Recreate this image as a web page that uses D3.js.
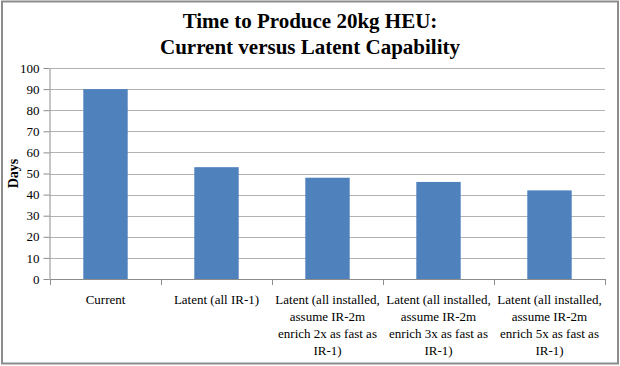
<!DOCTYPE html>
<html>
<head>
<meta charset="utf-8">
<script src="https://cdn.jsdelivr.net/npm/d3@7"></script>
<style>
  body { margin: 0; background: #fff; }
  svg { display: block; }
  text { font-family: "Liberation Serif", "DejaVu Serif", serif; }
</style>
</head>
<body>
<div id="chart_area"></div>
<script>
var width = 620
var height = 366

// Data
var categories = [
  ["Current"],
  ["Latent (all IR-1)"],
  ["Latent (all installed,", "assume IR-2m", "enrich 2x as fast as", "IR-1)"],
  ["Latent (all installed,", "assume IR-2m", "enrich 3x as fast as", "IR-1)"],
  ["Latent (all installed,", "assume IR-2m", "enrich 5x as fast as", "IR-1)"]
]
var days = [90, 53, 48, 46, 42]
var yTicks = [0, 10, 20, 30, 40, 50, 60, 70, 80, 90, 100]
var titleLines = ["Time to Produce 20kg HEU:", "Current versus Latent Capability"]
var yLabel = "Days"

var plot = {left: 50, right: 605, top: 68, bottom: 279}
var serif = "Liberation Serif, DejaVu Serif, serif"

var svg = d3.select("#chart_area")
  .append("svg")
  .attr("width", width)
  .attr("height", height)
  .attr("font-family", serif)

// outer frame
svg.append("rect")
  .attr("x", 2)
  .attr("y", 1.5)
  .attr("width", 616)
  .attr("height", 362)
  .attr("fill", "#fff")
  .attr("stroke", "#8c8c8c")
  .attr("stroke-width", 2)

var x = d3.scaleBand()
  .domain(d3.range(categories.length))
  .range([plot.left, plot.right])
  .paddingInner(0.6)
  .paddingOuter(0.3)

var y = d3.scaleLinear()
  .domain([0, 100])
  .range([plot.bottom, plot.top])

// gridlines
svg.append("g")
  .selectAll("line")
  .data(yTicks.slice(1))
  .join("line")
  .attr("x1", plot.left)
  .attr("x2", plot.right)
  .attr("y1", d => Math.round(y(d)) + 0.5)
  .attr("y2", d => Math.round(y(d)) + 0.5)
  .attr("stroke", "#b3b3b3")
  .attr("stroke-width", 1)

// bars
svg.append("g")
  .selectAll("rect")
  .data(days)
  .join("rect")
  .attr("x", (d, i) => x(i))
  .attr("y", d => y(d))
  .attr("width", x.bandwidth())
  .attr("height", d => y(0) - y(d))
  .attr("fill", "#4f81bd")

// y axis
var yAxis = svg.append("g")
  .attr("transform", "translate(" + (plot.left - 0.5) + ",0)")
  .call(d3.axisLeft(y).tickValues(yTicks).tickSize(6).tickPadding(4).tickSizeOuter(0))
  .attr("font-family", serif)
  .attr("font-size", 13)
yAxis.selectAll("path, line").attr("stroke", "#8c8c8c")
yAxis.selectAll("text").attr("fill", "#000")

// x axis
var bounds = d3.range(categories.length + 1).map(i => plot.left + i * x.step())
svg.append("line")
  .attr("x1", plot.left)
  .attr("x2", plot.right)
  .attr("y1", plot.bottom + 0.5)
  .attr("y2", plot.bottom + 0.5)
  .attr("stroke", "#8c8c8c")
svg.append("g")
  .selectAll("line")
  .data(bounds)
  .join("line")
  .attr("x1", d => Math.round(d) + 0.5)
  .attr("x2", d => Math.round(d) + 0.5)
  .attr("y1", plot.bottom)
  .attr("y2", plot.bottom + 6)
  .attr("stroke", "#8c8c8c")

// category labels
var labels = svg.append("g")
  .attr("font-size", 13)
  .selectAll("text")
  .data(categories)
  .join("text")
  .attr("text-anchor", "middle")
  .attr("fill", "#000")
labels.selectAll("tspan")
  .data((d, i) => d.map(t => ({t: t, i: i})))
  .join("tspan")
  .attr("x", d => x(d.i) + x.bandwidth() / 2)
  .attr("y", (d, j) => 304 + j * 17)
  .text(d => d.t)

// y label
svg.append("text")
  .attr("transform", "translate(18," + (plot.top + plot.bottom) / 2 + ") rotate(-90)")
  .attr("text-anchor", "middle")
  .attr("fill", "#000")
  .attr("font-size", 14)
  .attr("font-weight", 700)
  .text(yLabel)

// title
svg.append("g")
  .selectAll("text")
  .data(titleLines)
  .join("text")
  .attr("x", width / 2)
  .attr("y", (d, i) => 28 + i * 26)
  .attr("text-anchor", "middle")
  .attr("fill", "#000")
  .attr("font-size", 21)
  .attr("font-weight", 700)
  .text(d => d)
</script>
</body>
</html>
